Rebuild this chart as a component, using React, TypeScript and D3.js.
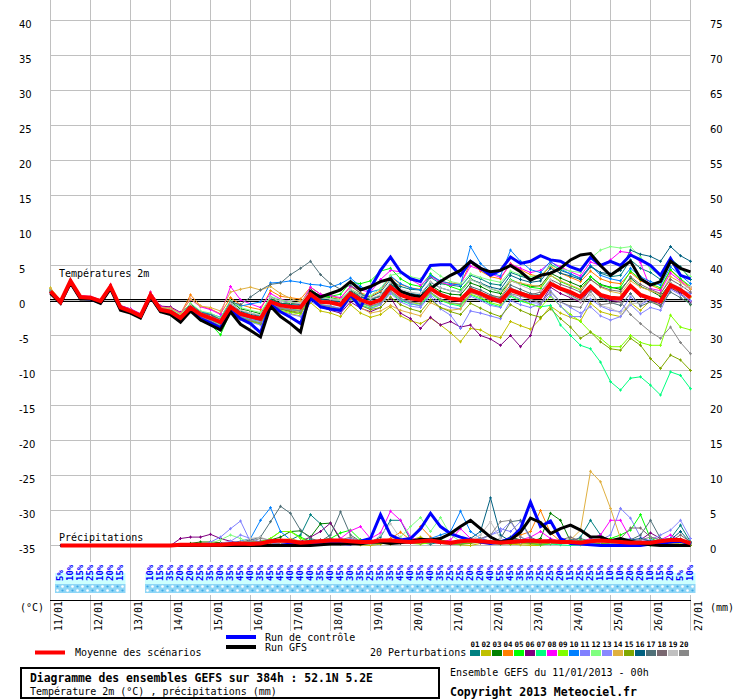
import React, { useEffect, useRef } from "react";
import * as d3 from "d3";

// GEFS run 11/01/2013 00h, 52.1N 5.2E, 6-hourly steps 0..64 (384h)
const DAYS = ["11/01","12/01","13/01","14/01","15/01","16/01","17/01","18/01","19/01","20/01","21/01","22/01","23/01","24/01","25/01","26/01","27/01"];

const MEMBER_COLORS = ["#008080","#c0c000","#008000","#ff8000","#00ff00","#800080","#00ff80","#ff00ff","#80ff00","#0080ff","#8080ff","#80ff80","#8888ff","#e0b040","#80a800","#006080","#507078","#7a6870","#c0c0c0","#888888"];

// probability of precipitation (%), steps 1..64 (0 = no label)
const PRECIP_PROB = [5,10,15,25,10,20,15,0,0,10,15,35,20,20,25,35,30,35,45,40,35,45,45,40,40,40,35,40,45,30,35,25,35,35,45,40,35,40,35,25,25,20,20,40,55,45,35,35,25,25,20,15,25,25,15,10,10,20,20,10,15,20,5,10];

// 2m temperature (°C), steps 0..64
const T_MEAN = [1.3,-0.2,2.8,0.5,0.4,-0.1,2.0,-1.0,-1.5,-2.2,0.8,-1.3,-1.6,-2.5,-1.0,-2.0,-2.5,-3.1,-0.9,-1.9,-2.3,-2.6,-0.2,-0.7,-0.9,-1.0,0.9,-0.2,-0.3,-0.6,1.0,0.1,-0.4,0.1,1.9,0.8,0.3,0.1,1.7,0.8,0.3,0.1,1.5,1.0,0.3,-0.1,1.5,1.0,0.5,0.5,2.4,1.7,1.2,0.5,2.0,0.8,0.4,0.3,2.1,0.8,0.3,-0.1,2.2,1.5,0.4];
const T_CTRL = [1.2,-0.3,2.6,0.3,0.2,-0.3,1.8,-1.2,-1.7,-2.4,0.6,-1.5,-1.9,-2.9,-1.4,-2.6,-3.2,-3.9,-1.4,-2.6,-3.3,-4.6,-0.6,-1.6,-2.4,-3.3,0.4,-0.9,-1.2,-1.4,0.8,-1.0,1.8,4.3,6.2,4.1,3.1,2.7,5.0,5.1,5.1,3.6,5.6,4.6,3.6,4.3,6.2,5.3,5.6,6.4,5.8,5.6,4.8,4.3,6.2,5.0,5.6,5.0,6.5,5.8,5.0,3.6,6.0,3.6,3.1];
const T_GFS = [1.0,-0.4,2.5,0.2,0.2,-0.4,1.7,-1.4,-1.8,-2.5,0.5,-1.6,-2.0,-3.1,-1.5,-2.8,-3.5,-4.2,-1.6,-3.4,-4.3,-5.2,-0.8,-2.3,-3.3,-4.5,1.3,0.5,1.0,1.5,2.7,1.5,2.0,2.7,3.1,1.3,0.8,0.5,1.7,2.7,3.6,4.3,5.6,4.6,4.1,4.3,5.0,4.1,2.9,3.6,3.9,4.6,5.8,6.5,6.7,5.0,3.6,4.6,5.6,3.1,2.2,2.7,5.6,4.6,4.1];
const T_P01 = [1.5,-0.1,2.9,0.6,0.3,-0.2,2.1,-0.9,-1.4,-2.0,1.0,-1.0,-1.3,-2.2,-0.6,-1.7,-2.2,-2.8,-0.3,-1.5,-1.8,-2.2,0.5,-0.1,-0.4,-0.6,1.4,0.3,0.2,0.0,1.6,0.8,0.5,1.2,3.0,2.0,1.6,1.5,3.3,2.4,2.2,2.0,3.6,3.1,2.4,2.2,4.0,3.5,3.0,3.2,5.2,4.3,3.8,3.2,5.0,3.9,3.4,3.6,5.8,4.6,4.0,3.0,6.0,4.8,3.0];
const T_P02 = [1.8,0.0,2.6,0.4,0.5,0.0,1.9,-1.1,-1.6,-2.3,0.6,-1.5,-1.9,-2.8,-1.2,-2.3,-2.9,-3.6,-1.3,-2.4,-2.9,-3.2,-0.8,-1.5,-1.9,-2.2,-0.3,-1.5,-1.8,-2.3,-0.6,-1.8,-2.4,-2.0,-0.9,-2.2,-2.9,-3.3,-2.5,-3.5,-4.6,-5.9,-4.0,-4.2,-5.0,-5.3,-3.0,-3.6,-4.1,-2.6,-0.8,-1.8,-2.4,-2.9,-0.4,-1.6,-2.0,-2.3,-0.3,-1.4,0.0,-0.8,1.8,1.2,0.5];
const T_P03 = [1.2,-0.3,2.7,0.5,0.4,-0.1,2.0,-1.0,-1.5,-2.2,0.9,-1.2,-1.4,-2.3,-0.5,-1.6,-2.0,-2.7,-0.1,-1.2,-1.5,-1.9,0.3,-0.4,-0.5,-0.4,1.6,0.6,0.4,0.1,1.5,0.6,0.2,0.7,2.4,1.4,0.9,0.6,2.2,1.3,0.9,0.8,2.5,2.0,1.3,1.0,2.8,2.4,2.0,2.1,3.9,3.2,2.6,2.0,3.4,2.3,1.9,1.6,3.2,2.0,1.4,0.6,2.5,1.0,-0.6];
const T_P04 = [1.4,-0.2,2.8,0.6,0.5,0.0,2.2,-0.8,-1.3,-2.0,1.2,-0.9,-1.0,-1.9,0.8,-0.8,-1.2,-1.9,0.4,-0.6,-1.0,-1.3,1.4,0.6,0.4,0.2,1.9,0.9,0.6,0.3,2.0,1.1,0.6,1.4,3.4,2.3,1.8,1.6,3.5,2.7,2.5,2.3,5.4,4.2,3.4,3.1,5.3,4.4,3.7,3.4,4.9,3.9,3.3,2.7,4.2,3.1,2.6,2.4,4.0,2.8,2.2,1.6,4.3,3.0,1.8];
const T_P05 = [1.3,-0.2,2.7,0.4,0.3,-0.2,1.9,-1.2,-1.7,-2.5,0.5,-1.6,-2.0,-3.0,-1.6,-2.8,-3.4,-4.9,-1.6,-2.6,-3.0,-3.4,-0.6,-1.1,-1.3,-1.4,1.3,0.4,0.6,0.9,2.6,2.4,2.8,4.2,4.6,3.1,2.3,2.0,3.8,2.6,2.0,1.5,3.1,2.4,1.7,1.2,3.0,2.4,1.9,1.7,3.6,2.7,2.1,1.5,3.4,2.2,1.8,1.9,4.2,3.0,2.4,1.8,4.4,3.1,2.0];
const T_P06 = [1.3,-0.1,2.8,0.6,0.5,0.1,2.1,-0.7,-1.2,-1.9,0.9,-0.8,-0.9,-1.7,-0.6,-1.8,-2.0,-2.9,-1.0,-2.1,-2.5,-2.9,-0.6,-1.2,-1.6,-1.9,0.2,-0.9,-1.4,-1.8,-0.2,-1.1,-1.6,-1.0,0.4,-1.8,-2.6,-4.0,-2.4,-3.5,-3.0,-3.8,-3.5,-5.0,-5.5,-6.4,-5.0,-6.6,-5.0,-0.5,1.9,1.0,0.4,-0.2,1.6,0.5,0.0,-0.2,1.8,0.6,0.0,-0.5,1.8,1.0,-0.2];
const T_P07 = [1.2,-0.3,2.7,0.4,0.3,-0.2,1.9,-1.1,-1.6,-2.4,0.7,-1.4,-1.8,-2.7,-1.1,-2.2,-2.8,-3.4,-1.2,-2.3,-2.7,-3.0,-0.5,-1.0,-1.3,-1.5,0.5,-0.6,-0.8,-1.2,0.4,-0.6,-1.1,-0.6,1.1,0.0,-0.5,-0.7,1.0,0.0,-0.5,-0.8,0.8,0.2,-0.5,-0.9,0.6,-0.1,-0.5,-0.9,-0.7,-3.5,-5.0,-6.4,-6.9,-8.8,-11.6,-12.8,-11.1,-10.9,-12.1,-13.5,-10.2,-10.7,-12.6];
const T_P08 = [1.4,-0.1,3.0,0.7,0.6,0.1,2.3,-0.8,-1.2,-1.9,1.2,-0.9,-1.1,-1.8,0.2,-0.9,-1.3,-2.0,2.0,0.1,-0.5,-1.0,1.0,0.2,-0.2,-0.5,1.9,0.9,0.7,0.4,2.0,1.5,1.2,3.0,4.3,4.1,3.0,2.2,3.5,2.6,2.2,2.4,4.9,4.4,3.8,3.3,5.2,4.6,4.0,4.3,5.5,4.8,4.1,3.5,5.5,5.0,5.8,7.0,6.8,5.4,1.7,1.4,3.9,2.8,1.6];
const T_P09 = [1.3,-0.2,2.8,0.5,0.4,-0.1,2.0,-1.0,-1.5,-2.3,0.6,-1.5,-1.8,-2.8,-1.3,-2.4,-3.0,-3.8,-1.5,-2.6,-3.0,-3.4,-0.9,-1.4,-1.7,-1.9,0.3,-0.8,-1.0,-1.3,0.6,-0.4,-0.9,-0.5,1.2,0.2,-0.3,-0.5,1.1,0.1,-0.4,-0.6,0.9,0.4,-0.3,-0.7,0.8,0.1,-0.5,-1.0,0.6,-0.8,-2.0,-3.0,-4.5,-5.4,-6.6,-6.6,-5.0,-6.0,-6.4,-6.4,-2.1,-3.8,-4.2];
const T_P10 = [1.2,-0.3,2.7,0.4,0.3,-0.2,1.9,-1.1,-1.5,-2.2,0.9,-1.1,-1.3,-2.2,-0.7,-1.6,-1.9,-2.4,-0.1,-0.8,-0.5,-0.2,2.5,2.6,2.8,2.6,2.3,2.2,1.9,2.4,3.2,2.0,1.2,1.6,3.5,2.4,1.8,1.5,3.6,2.8,2.4,2.2,7.7,5.3,4.0,3.5,7.2,5.6,4.4,4.0,5.6,4.5,3.8,3.1,5.0,3.6,3.1,2.8,4.6,3.4,2.7,2.2,4.8,3.6,2.4];
const T_P11 = [1.3,-0.2,2.8,0.5,0.4,-0.1,2.0,-1.0,-1.5,-2.2,0.7,-1.4,-1.7,-2.6,-1.2,-2.3,-2.9,-3.6,-1.2,-2.2,-2.6,-3.0,-0.5,-1.0,-1.3,-1.5,0.4,-0.6,-0.8,-1.1,0.5,-0.3,-0.8,-0.4,1.3,0.2,-0.4,-0.8,0.6,-1.2,-2.1,-4.0,-1.5,-1.8,-2.2,-2.6,0.0,-0.6,-1.0,-0.5,0.8,-0.8,-2.3,-2.3,0.2,-0.8,-1.4,-1.6,0.5,-0.6,0.2,-0.2,2.4,1.6,1.0];
const T_P12 = [1.4,-0.1,2.9,0.6,0.5,0.0,2.1,-0.9,-1.4,-2.1,1.0,-1.0,-1.2,-2.0,-0.4,-1.5,-1.8,-2.5,0.0,-1.0,-1.4,-1.7,0.6,0.1,-0.2,-0.4,1.3,0.4,0.3,0.1,1.6,0.9,0.7,1.7,3.6,3.9,3.4,3.1,4.6,3.5,2.7,2.4,3.8,3.3,2.9,2.6,4.2,3.7,3.4,3.6,5.0,4.5,4.2,4.0,6.0,7.2,7.7,7.5,7.7,6.2,4.5,3.6,5.8,4.5,3.4];
const T_P13 = [1.2,-0.3,2.7,0.4,0.3,-0.2,1.9,-1.1,-1.6,-2.3,0.6,-1.5,-1.9,-2.9,-1.4,-2.6,-3.2,-3.9,-1.6,-2.7,-3.1,-3.5,-1.0,-1.6,-2.0,-2.3,-0.1,-1.0,-1.3,-1.6,0.2,-0.7,-1.2,-0.6,1.0,-0.2,-0.8,-1.0,0.8,-0.4,-1.0,-1.2,0.6,0.0,-0.7,-1.0,0.9,0.2,-0.3,-0.4,1.4,-0.2,-1.0,-1.8,-0.9,-2.2,-2.8,-2.3,-0.6,-1.9,-1.0,-1.4,1.6,0.8,0.0];
const T_P14 = [1.7,0.0,2.9,0.6,0.5,0.0,2.2,-0.9,-1.3,-2.0,1.0,-1.0,-1.1,-1.9,0.2,-0.8,-1.0,-1.5,1.2,1.6,1.9,1.5,2.0,1.0,0.3,-0.2,1.4,0.2,-0.3,-0.8,0.5,-1.0,-1.8,-1.5,-0.7,-1.4,-1.8,-2.2,-0.3,-1.0,-1.4,-1.2,1.0,0.9,0.6,0.5,2.8,2.5,2.2,2.0,3.6,2.8,2.2,1.6,3.0,1.9,1.3,1.0,2.8,1.9,1.4,0.9,3.4,2.6,1.6];
const T_P15 = [1.2,-0.3,2.7,0.4,0.3,-0.2,1.9,-1.1,-1.6,-2.3,0.6,-1.5,-1.8,-2.8,-1.3,-2.4,-3.0,-3.7,-1.4,-2.5,-2.9,-3.3,-0.7,-1.2,-1.5,-1.7,0.3,-0.8,-1.1,-1.4,0.3,-0.7,-1.3,-1.0,0.5,-0.6,-1.2,-1.6,0.1,-1.0,-1.6,-2.0,-0.4,-1.1,-1.8,-2.3,-0.6,-1.4,-2.0,-2.4,-1.2,-2.6,-3.8,-5.4,-4.5,-5.9,-6.9,-7.1,-5.4,-6.4,-8.3,-9.7,-7.8,-8.5,-10.0];
const T_P16 = [1.3,-0.2,2.8,0.5,0.4,-0.1,2.0,-1.0,-1.5,-2.2,0.8,-1.3,-1.5,-2.4,-0.9,-1.9,-2.3,-2.9,-0.6,-1.6,-2.0,-2.3,0.1,-0.4,-0.6,-0.7,1.2,0.2,0.0,-0.2,1.3,0.5,0.1,0.6,2.3,1.4,1.0,0.8,2.6,1.8,1.4,1.2,3.0,2.5,1.9,1.6,3.6,3.0,2.6,2.8,4.6,3.9,3.5,3.0,4.8,4.0,3.8,4.3,7.2,6.6,6.3,5.6,7.7,6.4,5.6];
const T_P17 = [1.3,-0.2,2.9,0.5,0.4,-0.1,2.0,-1.0,-1.5,-2.2,0.9,-1.2,-1.4,-2.3,-0.7,-1.7,-2.1,-2.7,-0.2,-0.6,0.5,1.5,2.3,2.5,3.7,4.6,5.6,3.7,2.4,1.6,2.2,1.0,0.2,0.6,2.2,1.2,0.6,0.3,2.0,1.0,0.4,0.2,2.0,1.5,0.8,0.4,2.2,1.6,1.0,0.8,2.6,1.6,0.8,0.0,1.8,0.4,-0.3,-0.7,1.0,-0.8,-0.2,-0.8,1.2,0.4,-0.5];
const T_P18 = [1.3,-0.2,2.8,0.5,0.4,-0.1,2.0,-1.0,-1.5,-2.2,0.8,-1.3,-1.6,-2.5,-1.0,-2.0,-2.5,-3.1,-0.9,-1.9,-2.3,-2.7,-0.3,-0.8,-1.0,-1.1,0.8,-0.3,-0.4,-0.6,1.0,0.2,-0.2,0.3,2.0,1.0,0.5,0.3,1.8,0.9,0.4,0.2,1.8,1.2,0.6,0.2,1.8,1.2,0.8,1.2,3.0,2.3,1.8,1.2,3.0,2.0,1.5,1.3,3.4,2.3,1.6,1.0,3.0,2.2,1.2];
const T_P19 = [1.3,-0.2,2.8,0.5,0.4,-0.1,2.0,-1.0,-1.5,-2.2,0.9,-1.1,-1.4,-2.3,-0.7,-1.8,-2.3,-2.8,-0.4,-1.4,-1.8,-2.1,0.4,-0.1,-0.3,-0.4,1.4,0.4,0.2,0.0,1.6,0.7,0.3,0.8,2.6,1.6,1.2,1.0,2.7,1.8,1.4,1.2,3.0,2.4,1.7,1.3,2.9,2.2,1.6,1.4,3.0,1.6,0.6,-0.1,0.8,-0.7,-1.1,-1.8,-0.4,-0.4,0.4,-0.3,2.5,1.8,2.0];
const T_P20 = [1.3,-0.2,2.8,0.5,0.4,-0.1,2.0,-1.0,-1.5,-2.2,0.8,-1.4,-1.7,-2.7,-1.2,-2.4,-3.0,-3.8,-1.3,-2.4,-2.8,-3.2,-0.5,-1.1,-1.3,-1.5,0.4,-0.6,-0.9,-1.2,0.6,-0.3,-0.8,-0.3,1.4,0.3,-0.2,-0.4,1.2,0.2,-0.3,-0.5,1.2,0.6,0.0,-0.4,1.0,0.6,0.2,-0.4,1.2,-0.2,-0.8,-1.0,1.3,-0.6,-0.4,-0.2,-2.0,-3.3,-4.5,-5.4,-3.8,-6.0,-7.6];

// 6-hourly precipitation (mm), steps 1..64
const R_MEAN = [0,0,0,0,0,0,0,0, 0,0,0,0,0.1,0.1,0.1,0.1, 0.1,0.2,0.3,0.2,0.3,0.6,0.7,0.6, 0.4,0.5,0.6,0.7,0.7,0.6,0.5,0.5, 0.7,0.7,0.6,0.5,0.6,0.7,0.5,0.4, 0.6,0.7,0.6,0.5,0.4,0.5,0.6,0.7, 0.6,0.6,0.5,0.5,0.4,0.6,0.7,0.6, 0.5,0.4,0.4,0.4,0.6,0.8,0.8,0.3];
const R_CTRL = [0,0,0,0,0,0,0,0, 0,0,0,0,0,0,0,0, 0,0,0,0,0,0,0,0.2, 0.4,0.3,0.2,0.5,0.3,0.2,0.6,1.0, 4.4,1.5,0.8,1.0,2.4,4.6,2.7,1.7, 1.2,0.8,0.5,0.3,0.5,1.0,2.4,6.2, 2.7,3.5,1.0,0.3,0.2,0.1,0,0, 0,0,0,0.2,0.3,0.5,0.6,0.2];
const R_GFS = [0,0,0,0,0,0,0,0, 0,0,0,0,0,0,0,0, 0,0,0,0,0,0,0,0, 0,0,0.1,0.2,0.2,0.3,0.2,0.5, 0.5,0.3,0.4,0.6,0.9,0.8,1.0,1.7, 2.7,3.6,2.4,1.2,0.5,0.8,1.9,3.9, 3.3,1.7,2.4,2.9,2.2,1.2,1.2,0.7, 1.0,0.6,0.3,0.1,0,0,0,0];
const R_P01 = [0,0,0,0,0,0,0,0, 0,0,0,0,0,0,0,0.2, 0.3,0.2,0.1,0,0.2,0.3,0.5,0.8, 1.5,4.4,3.1,1.0,0.4,0.2,0.3,0.5, 1.2,3.6,3.6,0.8,0.4,0.2,0.5,0.3, 0.2,0.4,0.6,0.3,0.2,0.5,0.4,0.3, 0.5,0.8,0.6,0.4,1.2,3.6,1.5,0.6, 0.4,0.3,0.5,0.6,0.8,1.0,2.9,0.5];
const R_P02 = [0,0,0,0,0,0,0,0, 0,0,0,0,0,0,0,0, 0,0,0.2,0.3,0.1,0,0.4,0.6, 0.3,0.2,0.5,0.8,0.4,0.2,0.1,0, 0.2,0.5,0.3,0.8,1.2,0.6,0.3,0.2, 0.1,0,0.3,0.5,0.4,0.2,0.1,0, 0,0.3,0.6,0.4,0.2,0.5,0.3,0.1, 0,0,0.2,0.4,0.3,0.1,0,0];
const R_P03 = [0,0,0,0,0,0,0,0, 0,0,0,0,0,0.3,0.5,0.5, 0.4,0.2,0.1,0.3,0.6,0.8,1.2,2.0, 2.1,1.2,3.1,3.2,0.8,0.5,0.3,0.2, 0.4,0.6,0.5,0.3,0.8,1.0,0.6,0.4, 0.5,0.8,0.6,0.4,0.6,1.2,0.8,0.6, 1.0,4.6,3.6,0.6,0.4,0.6,0.3,0.2, 0.3,0.5,0.4,0.6,0.3,0.2,0.3,0.1];
const R_P04 = [0,0,0,0,0,0,0,0, 0,0,0,0,0,0,0,0, 0,0.2,0.4,0.6,0.3,0.2,0.5,0.4, 0.2,0.4,0.6,0.3,0.2,0.5,0.8,0.4, 0.6,1.0,1.9,0.8,2.7,1.2,0.6,0.4, 0.6,0.8,1.0,0.6,0.5,1.0,1.5,2.0, 5.0,1.8,0.6,0.4,0.3,0.5,0.4,0.2, 0.3,0.2,0.4,0.5,0.8,0.6,0.4,0.2];
const R_P05 = [0,0,0,0,0,0,0,0, 0,0,0,0,0,0,0,0, 0,0,0.2,0.4,0.5,1.0,2.0,2.0, 1.2,0.6,0.8,1.0,1.8,2.2,0.8,0.4, 0.3,0.5,0.6,0.4,0.3,0.5,0.8,0.5, 0.4,0.6,0.5,0.3,0.4,0.8,0.6,0.4, 0.5,0.4,0.3,0.5,0.8,0.6,0.4,1.0, 1.5,2.2,4.4,1.0,0.5,0.4,0.6,0.3];
const R_P06 = [0,0,0,0,0,0,0,0, 0,0,0,0,1.0,1.2,1.2,1.6, 1.0,0.6,0.3,0.2,0.4,0.3,0.5,0.8, 0.6,1.2,2.0,3.2,1.0,0.6,0.4,0.3, 0.5,0.4,0.3,0.6,0.8,0.5,0.3,0.2, 0.3,0.5,0.4,0.3,0.6,1.0,0.8,0.4, 0.3,0.5,0.6,0.4,0.2,0.3,0.5,0.4, 0.3,0.6,0.8,1.8,1.0,0.5,0.4,0.2];
const R_P07 = [0,0,0,0,0,0,0,0, 0,0,0,0,0,0,0,0, 0,0,0.3,0.5,0.4,0.6,0.3,0.2, 0.5,0.8,0.6,0.3,0.2,0.4,0.6,0.8, 0.5,0.3,0.4,0.6,0.8,1.0,0.6,0.3, 0.2,0.4,0.5,0.3,0.2,0.3,0.4,0.2, 0.1,0.2,0.1,0,0.1,0.2,0.1,0, 0,0,0.1,0,0,0,0,0];
const R_P08 = [0,0,0,0,0,0,0,0, 0,0,0,0,0,0,0,0, 0,0,0.2,0.3,0.5,0.4,0.3,0.5, 0.4,0.6,0.8,0.5,1.0,2.1,2.7,1.0, 1.8,4.9,3.6,1.2,0.6,0.4,0.5,0.8, 2.4,1.0,0.6,0.4,0.5,0.6,0.8,1.2, 2.0,1.0,0.6,0.4,0.5,1.0,1.5,3.6, 3.6,1.0,0.6,0.4,0.8,1.5,0.6,0.3];
const R_P09 = [0,0,0,0,0,0,0,0, 0,0,0,0,0,0,0,0, 0,0.1,0.3,0.2,0.5,1.0,2.0,2.0, 1.0,0.5,0.3,0.2,0.4,0.5,0.3,0.2, 0.3,0.4,0.5,0.3,0.2,0.4,0.5,0.3, 0.4,0.6,0.5,0.3,0.4,0.5,0.3,0.2, 0.3,0.4,0.6,0.3,0.2,0.3,0.2,0.1, 0.2,0.3,0.2,0.1,0.1,0.2,0.1,0];
const R_P10 = [0,0,0,0,0,0,0,0, 0,0,0,0,0,0,0,0, 0.2,0.4,0.6,1.0,3.6,5.4,2.0,0.8, 0.4,0.6,0.5,0.3,0.8,0.4,0.3,0.2, 0.3,0.5,0.4,0.6,0.8,1.0,1.5,2.0, 4.9,2.0,1.0,0.6,0.5,0.8,0.6,0.4, 0.6,0.8,0.5,0.3,0.4,0.6,0.4,0.3, 0.4,0.5,0.3,0.6,0.8,1.0,0.8,0.4];
const R_P11 = [0,0,0,0,0,0,0,0, 0,0,0,0,0,0,0,0.5, 1.2,2.4,3.5,0.5,0.3,0.4,0.2,0.5, 0.6,0.4,0.3,0.5,0.8,1.0,0.5,0.3, 0.4,0.6,0.5,0.3,0.5,0.8,0.6,0.4, 0.5,0.8,1.0,1.5,2.4,2.0,3.4,1.0, 0.6,0.4,0.3,0.5,0.4,0.6,0.8,1.5, 5.3,3.9,1.2,0.6,0.5,0.8,0.6,0.3];
const R_P12 = [0,0,0,0,0,0,0,0, 0,0,0,0,0,0,0,0.3, 0.8,1.5,1.0,0.4,0.3,0.5,0.6,0.4, 0.3,0.5,0.4,0.6,0.8,0.5,0.3,0.4, 0.6,0.8,1.2,2.7,4.0,2.0,4.0,1.5, 0.6,0.4,0.5,0.3,0.4,0.6,0.5,0.3, 0.4,0.6,0.5,0.3,0.5,0.8,0.6,0.4, 0.3,0.5,0.6,0.4,0.5,0.6,0.3,0.2];
const R_P13 = [0,0,0,0,0,0,0,0, 0,0,0,0,0,0,0,0, 0.3,0.6,1.5,1.0,0.5,0.3,0.4,0.6, 0.5,0.3,0.6,0.8,0.5,0.4,0.6,0.5, 0.4,0.6,0.8,0.5,0.4,0.6,0.5,0.3, 0.4,0.6,0.8,1.5,2.0,3.4,1.2,0.6, 0.4,0.5,0.6,0.8,0.5,0.4,0.6,0.5, 0.8,1.0,0.6,0.8,1.5,2.2,3.6,1.0];
const R_P14 = [0,0,0,0,0,0,0,0, 0,0,0,0,0,0,0,0, 0,0.2,0.4,0.6,0.5,0.3,0.8,1.0, 0.6,0.4,0.3,0.5,0.6,0.4,0.3,0.2, 0.3,0.5,0.4,0.3,0.5,0.6,0.4,0.3, 0.4,0.5,0.3,0.2,0.4,0.5,0.3,0.2, 0.3,0.4,0.6,0.8,2.2,10.6,9.1,5.3, 1.0,0.5,0.3,0.4,0.5,0.3,0.2,0.1];
const R_P15 = [0,0,0,0,0,0,0,0, 0,0,0,0,0,0,0,0, 0,0,0.2,0.3,0.2,0.5,0.6,0.3, 0.2,0.4,0.3,0.2,0.5,0.3,0.2,0.4, 0.3,0.2,0.4,0.5,0.3,0.6,0.4,0.3, 0.2,0.3,0.5,0.4,0.3,0.2,0.4,0.3, 0.2,0.3,0.4,0.5,0.3,0.2,0.3,0.2, 0.1,0.2,0.3,0.2,0.1,0.2,0.1,0];
const R_P16 = [0,0,0,0,0,0,0,0, 0,0,0,0,0,0,0,0, 0,0.2,0.3,0.5,0.4,0.6,0.8,0.5, 0.4,0.8,0.6,0.4,0.5,0.3,0.4,0.6, 0.5,0.4,0.6,0.3,0.5,0.8,0.6,0.4, 0.5,1.0,2.0,6.8,1.5,0.6,0.4,0.5, 0.6,0.8,0.5,0.4,0.6,0.5,0.8,0.6, 0.5,0.8,1.0,0.6,0.5,0.8,2.0,0.4];
const R_P17 = [0,0,0,0,0,0,0,0, 0,0,0,0,0,0,0,0, 0,0.3,0.5,0.8,1.2,3.4,5.6,4.6, 2.2,1.0,0.6,1.5,4.8,1.5,0.6,0.4, 0.5,0.3,0.6,0.8,0.5,0.4,0.6,0.3, 0.5,0.8,0.6,0.5,1.0,3.4,3.6,1.2, 0.5,0.4,0.6,0.8,1.0,0.6,0.4,0.5, 0.6,0.8,1.5,3.6,1.0,0.6,0.8,0.3];
const R_P18 = [0,0,0,0,0,0,0,0, 0,0,0,0,0,0,0,0, 0,0.2,0.3,0.4,0.6,0.4,0.3,0.5, 0.6,0.5,0.8,1.0,0.6,0.4,0.3,0.5, 0.6,0.4,0.3,0.5,0.8,0.6,0.4,0.3, 0.5,0.6,0.4,0.3,0.6,1.0,0.8,0.5, 0.4,0.6,0.8,1.2,0.6,0.4,0.5,0.6, 1.0,2.5,2.5,1.2,0.8,0.6,1.5,0.5];
const R_P19 = [0,0,0,0,0,0,0,0, 0,0,0,0,0,0,0,0, 0,0.2,0.5,1.0,1.2,0.6,0.4,0.3, 0.5,0.6,0.4,0.3,0.5,0.6,0.4,0.3, 1.5,3.1,1.0,0.5,0.4,0.6,0.5,0.4, 0.6,0.8,1.5,3.4,1.0,0.5,0.4,0.6, 0.5,0.4,0.6,0.5,0.4,0.3,0.5,0.4, 0.3,0.5,0.4,0.3,0.6,0.8,0.5,0.2];
const R_P20 = [0,0,0,0,0,0,0,0, 0,0,0,0,0,0,0,0, 0,0.2,0.4,0.6,1.0,0.8,0.6,0.4, 0.3,0.5,0.6,0.4,0.8,1.2,0.6,0.4, 0.5,0.6,0.4,0.3,0.5,0.6,0.4,0.3, 0.4,0.6,1.0,1.5,3.4,3.6,1.2,0.6, 0.4,0.6,0.5,0.3,0.4,0.6,0.8,0.5, 0.4,0.6,0.8,1.2,0.8,0.5,1.0,0.3];

const T_MEMBERS = [T_P01,T_P02,T_P03,T_P04,T_P05,T_P06,T_P07,T_P08,T_P09,T_P10,T_P11,T_P12,T_P13,T_P14,T_P15,T_P16,T_P17,T_P18,T_P19,T_P20];
const R_MEMBERS = [R_P01,R_P02,R_P03,R_P04,R_P05,R_P06,R_P07,R_P08,R_P09,R_P10,R_P11,R_P12,R_P13,R_P14,R_P15,R_P16,R_P17,R_P18,R_P19,R_P20];

const MONO = "'DejaVu Sans Mono', monospace";
const SANS = "'DejaVu Sans', sans-serif";

export default function App() {
  const svgRef = useRef<SVGSVGElement>(null);

  useEffect(() => {
    document.body.style.margin = "0";
    if (!svgRef.current) return;
    const svg = d3.select(svgRef.current);
    svg.selectAll("*").remove();

    const x = d3.scaleLinear().domain([0, 64]).range([50.5, 690.5]);
    const y = d3.scaleLinear().domain([-35, 40]).range([545.5, 20.5]);
    const yR = d3.scaleLinear().domain([0, 75]).range([545.5, 20.5]);

    // pattern for the precip band
    const defs = svg.append("defs");
    const pat = defs.append("pattern").attr("id", "snow").attr("width", 10).attr("height", 9)
      .attr("patternUnits", "userSpaceOnUse").attr("x", 0).attr("y", 584);
    pat.append("rect").attr("width", 10).attr("height", 9).attr("fill", "#8fd6f6");
    pat.append("circle").attr("cx", 2.5).attr("cy", 2.5).attr("r", 1.3).attr("fill", "#ffffff");
    pat.append("circle").attr("cx", 7.5).attr("cy", 6.5).attr("r", 1.3).attr("fill", "#ffffff");
    pat.append("circle").attr("cx", 7.5).attr("cy", 2.5).attr("r", 1.1).attr("fill", "#3aa8e8");
    pat.append("circle").attr("cx", 2.5).attr("cy", 6.5).attr("r", 1.1).attr("fill", "#3aa8e8");

    // grid
    const grid = svg.append("g").attr("stroke", "#c0c0c0").attr("shape-rendering", "crispEdges");
    y.ticks(15).forEach(t => {
      grid.append("line").attr("x1", 50).attr("x2", 691).attr("y1", y(t)).attr("y2", y(t));
    });
    DAYS.forEach((_, i) => {
      grid.append("line").attr("x1", x(i * 4)).attr("x2", x(i * 4)).attr("y1", 0).attr("y2", 631);
    });

    // zero line (double)
    svg.append("line").attr("x1", 50).attr("x2", 691).attr("y1", y(0)).attr("y2", y(0))
      .attr("stroke", "#000").attr("stroke-width", 3).attr("shape-rendering", "crispEdges");
    svg.append("line").attr("x1", 50).attr("x2", 691).attr("y1", y(0)).attr("y2", y(0))
      .attr("stroke", "#c0c0c0").attr("stroke-width", 1).attr("shape-rendering", "crispEdges");

    // bottom axis line
    svg.append("line").attr("x1", 50).attr("x2", 691).attr("y1", 600.5).attr("y2", 600.5)
      .attr("stroke", "#000").attr("shape-rendering", "crispEdges");

    // precipitation probability band
    const runs: [number, number][] = [];
    PRECIP_PROB.forEach((p, i) => {
      const s = i + 1;
      if (p > 0) {
        if (runs.length && runs[runs.length - 1][1] === s - 1) runs[runs.length - 1][1] = s;
        else runs.push([s, s]);
      }
    });
    const band = svg.append("g");
    runs.forEach(([a, b]) => {
      const x0 = x(a) - 5.5, w = x(b) - x(a) + 10.5;
      band.append("rect").attr("x", x0).attr("y", 562).attr("width", w).attr("height", 33).attr("fill", "#fff");
      band.append("rect").attr("x", x0).attr("y", 573).attr("width", w).attr("height", 11).attr("fill", "#ccffff");
      band.append("rect").attr("x", x0).attr("y", 584).attr("width", w).attr("height", 9).attr("fill", "url(#snow)");
    });
    PRECIP_PROB.forEach((p, i) => {
      if (!p) return;
      band.append("text")
        .attr("transform", `translate(${x(i + 1) + 2.5},581) rotate(-90)`)
        .attr("fill", "#0000ff").attr("font-family", MONO).attr("font-weight", "bold")
        .attr("font-size", 9).text(`${p}%`);
    });

    // axis labels
    const lab = svg.append("g").attr("font-family", SANS).attr("font-size", 10).attr("fill", "#000");
    y.ticks(15).forEach(t => {
      lab.append("text").attr("x", 19).attr("y", y(t) + 7).text(t);
    });
    yR.ticks(15).forEach(t => {
      lab.append("text").attr("x", 710).attr("y", yR(t) + 7).text(t);
    });
    DAYS.forEach((d, i) => {
      svg.append("text").attr("transform", `translate(${x(i * 4) + 11.5},631) rotate(-90)`)
        .attr("font-family", MONO).attr("font-size", 10).text(d);
    });
    svg.append("text").attr("x", 20).attr("y", 611).attr("font-family", MONO).attr("font-size", 10).text("(°C)");
    svg.append("text").attr("x", 710).attr("y", 611).attr("font-family", MONO).attr("font-size", 10).text("(mm)");

    svg.append("text").attr("x", 59).attr("y", 277).attr("font-family", MONO).attr("font-size", 10).text("Températures 2m");
    svg.append("text").attr("x", 59).attr("y", 541).attr("font-family", MONO).attr("font-size", 10).text("Précipitations");

    const tLine = d3.line<number>().x((_, i) => x(i)).y(d => y(d));
    const rLine = d3.line<number>().x((_, i) => x(i + 1)).y(d => yR(d));
    const marks = (vals: number[], off: number, sc: d3.ScaleLinear<number, number>) =>
      vals.map((v, i) => {
        const px = x(i + off), py = sc(v);
        return `M${px - 1.5},${py}h3M${px},${py - 1.5}v3`;
      }).join("");

    const data = svg.append("g").attr("fill", "none");

    // precipitation members
    R_MEMBERS.forEach((s, k) => {
      data.append("path").attr("d", rLine(s)).attr("stroke", MEMBER_COLORS[k]).attr("stroke-width", 1);
      data.append("path").attr("d", marks(s, 1, yR)).attr("stroke", MEMBER_COLORS[k]).attr("stroke-width", 1);
    });
    // temperature members
    T_MEMBERS.forEach((s, k) => {
      data.append("path").attr("d", tLine(s)).attr("stroke", MEMBER_COLORS[k]).attr("stroke-width", 1);
      data.append("path").attr("d", marks(s, 0, y)).attr("stroke", MEMBER_COLORS[k]).attr("stroke-width", 1);
    });

    data.append("path").attr("d", rLine(R_CTRL)).attr("stroke", "#0000ff").attr("stroke-width", 3);
    data.append("path").attr("d", rLine(R_GFS)).attr("stroke", "#000").attr("stroke-width", 3);
    data.append("path").attr("d", rLine(R_MEAN)).attr("stroke", "#ff0000").attr("stroke-width", 4);

    data.append("path").attr("d", tLine(T_CTRL)).attr("stroke", "#0000ff").attr("stroke-width", 3);
    data.append("path").attr("d", tLine(T_GFS)).attr("stroke", "#000").attr("stroke-width", 3);
    data.append("path").attr("d", tLine(T_MEAN)).attr("stroke", "#ff0000").attr("stroke-width", 4);

    // legend
    const leg = svg.append("g").attr("font-family", MONO).attr("font-size", 10);
    leg.append("line").attr("x1", 35).attr("x2", 65).attr("y1", 652.5).attr("y2", 652.5).attr("stroke", "#ff0000").attr("stroke-width", 4);
    leg.append("text").attr("x", 75).attr("y", 656).text("Moyenne des scénarios");
    leg.append("line").attr("x1", 226).attr("x2", 256).attr("y1", 637).attr("y2", 637).attr("stroke", "#0000ff").attr("stroke-width", 4);
    leg.append("text").attr("x", 265).attr("y", 641).text("Run de contrôle");
    leg.append("line").attr("x1", 226).attr("x2", 256).attr("y1", 647).attr("y2", 647).attr("stroke", "#000").attr("stroke-width", 4);
    leg.append("text").attr("x", 265).attr("y", 651).text("Run GFS");
    leg.append("text").attr("x", 370).attr("y", 656).text("20 Perturbations");
    MEMBER_COLORS.forEach((c, k) => {
      const sx = 470 + k * 11;
      leg.append("rect").attr("x", sx).attr("y", 650).attr("width", 10).attr("height", 6).attr("fill", c);
      leg.append("text").attr("x", sx + 5).attr("y", 647).attr("text-anchor", "middle")
        .attr("font-size", 7.5).attr("font-weight", "bold").text(String(k + 1).padStart(2, "0"));
    });

    // title box
    svg.append("rect").attr("x", 21).attr("y", 668).attr("width", 418).attr("height", 30)
      .attr("fill", "none").attr("stroke", "#000").attr("stroke-width", 2);
    svg.append("text").attr("x", 30).attr("y", 682).attr("font-family", MONO).attr("font-weight", "bold")
      .attr("font-size", 11.4).text("Diagramme des ensembles GEFS sur 384h : 52.1N 5.2E");
    svg.append("text").attr("x", 30).attr("y", 695).attr("font-family", MONO).attr("font-size", 10)
      .text("Température 2m (°C) , précipitations (mm)");
    svg.append("text").attr("x", 450).attr("y", 676).attr("font-family", MONO).attr("font-size", 10)
      .text("Ensemble GEFS du 11/01/2013 - 00h");
    svg.append("text").attr("x", 450).attr("y", 696).attr("font-family", MONO).attr("font-weight", "bold")
      .attr("font-size", 11.5).text("Copyright 2013 Meteociel.fr");
  }, []);

  return <svg ref={svgRef} width={740} height={700} style={{ display: "block", background: "#fff" }} />;
}
